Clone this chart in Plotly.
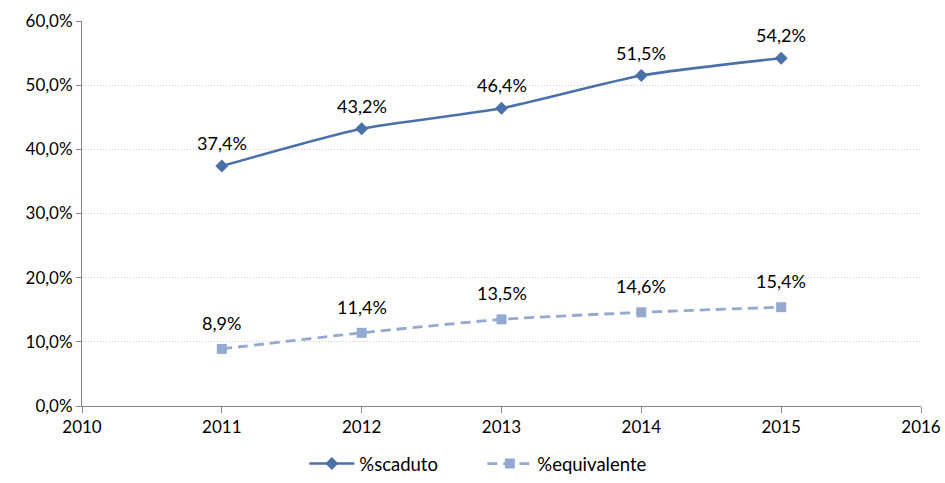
import plotly.graph_objects as go

years = [2011, 2012, 2013, 2014, 2015]
scaduto = [37.4, 43.2, 46.4, 51.5, 54.2]
equivalente = [8.9, 11.4, 13.5, 14.6, 15.4]
y_ticks = [0, 10, 20, 30, 40, 50, 60]
y_tick_labels = ["0,0%", "10,0%", "20,0%", "30,0%", "40,0%", "50,0%", "60,0%"]
x_ticks = [2010, 2011, 2012, 2013, 2014, 2015, 2016]

FONT = "Lato, Calibri, Liberation Sans, sans-serif"
C1 = "#4A70A8"
C2 = "#93A9D0"

def pct(v):
    return f"{v:.1f}".replace(".", ",") + "%"

fig = go.Figure()
fig.add_trace(go.Scatter(
    x=years, y=scaduto, name="%scaduto", mode="lines+markers",
    line=dict(color=C1, width=2.5, shape="spline", smoothing=0.6),
    marker=dict(symbol="diamond", size=10, color=C1),
))
fig.add_trace(go.Scatter(
    x=years, y=equivalente, name="%equivalente", mode="lines+markers",
    line=dict(color=C2, width=2.8, dash="10px,6px", shape="spline", smoothing=0.6),
    marker=dict(symbol="square", size=10, color=C2),
))

annotations = []
for x, v in zip(years, scaduto):
    annotations.append(dict(x=x, y=v, text=pct(v), showarrow=False, yshift=23,
                            font=dict(family=FONT, size=18, color="#000")))
for x, v in zip(years, equivalente):
    annotations.append(dict(x=x, y=v, text=pct(v), showarrow=False, yshift=26,
                            font=dict(family=FONT, size=18, color="#000")))

fig.update_layout(
    width=945, height=483,
    margin=dict(l=82, r=24, t=21, b=77, autoexpand=False),
    paper_bgcolor="white", plot_bgcolor="white",
    font=dict(family=FONT, size=17, color="#000"),
    annotations=annotations,
    showlegend=True,
    legend=dict(orientation="h", x=0.265, xanchor="left", yref="container",
                y=0.0, yanchor="bottom", entrywidth=118, entrywidthmode="pixels",
                font=dict(family=FONT, size=18.5), itemwidth=45),
    xaxis=dict(range=[2010, 2016], tickvals=x_ticks, ticktext=[str(t) for t in x_ticks],
               showgrid=False, showline=True, linecolor="#868686", linewidth=1,
               ticks="outside", ticklen=6, tickcolor="#868686", zeroline=False,
               automargin=False, tickfont=dict(family=FONT, size=17)),
    yaxis=dict(range=[0, 60], tickvals=y_ticks, ticktext=y_tick_labels,
               showgrid=True, gridcolor="#CFCFCF", griddash="1px,2px", gridwidth=1,
               showline=True, linecolor="#868686", linewidth=1,
               ticks="outside", ticklen=5, tickcolor="#868686", zeroline=False,
               automargin=False, tickfont=dict(family=FONT, size=17)),
)

fig.write_html("out.html")
